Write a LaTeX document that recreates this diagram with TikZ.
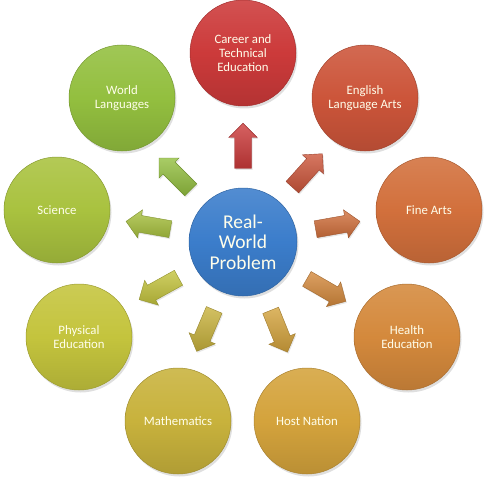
\documentclass[tikz,border=0pt]{standalone}
\usepackage{fontspec}
\setmainfont{Carlito}
\usetikzlibrary{shapes.arrows,shadows,calc}
\definecolor{cBlue}{HTML}{3B7DCB}
\definecolor{cCareer}{HTML}{CC3A3A}
\definecolor{cEnglish}{HTML}{CC553A}
\definecolor{cFine}{HTML}{D2703C}
\definecolor{cHealth}{HTML}{D4893C}
\definecolor{cHost}{HTML}{D4A33C}
\definecolor{cMath}{HTML}{C8B23C}
\definecolor{cPhys}{HTML}{C4C43D}
\definecolor{cSci}{HTML}{A9C23F}
\definecolor{cWorld}{HTML}{93BF3F}
\tikzset{
  ball/.style={circle, minimum size=106pt, inner sep=0pt, align=center,
    text=white!92!yellow, font=\fontsize{12.8}{13.8}\selectfont,
    draw=#1!80!black, line width=0.5pt,
    top color=#1!88!white, bottom color=#1!88!black, middle color=#1,
    drop shadow={opacity=0.25, shadow xshift=1.5pt, shadow yshift=-2.5pt}},
  blockarrow/.style={single arrow, minimum height=45pt, inner sep=0pt,
    inner ysep=8.3pt, single arrow head extend=5.7pt,
    draw=#1!75!black, line width=0.4pt,
    top color=#1!80!white, bottom color=#1!85!black,
    drop shadow={opacity=0.2, shadow xshift=1pt, shadow yshift=-1.5pt}}
}
\begin{document}
\begin{tikzpicture}[x=1pt,y=1pt]
\useasboundingbox (0,0) rectangle (486,480);
\node[ball=cBlue, minimum size=108pt, font=\fontsize{19.5}{20.7}\selectfont] (c) at (243,238) {Real-\\World\\Problem};
\node[ball=cCareer] (career) at (243,427) {Career and\\Technical\\Education};
\node[ball=cEnglish] (english) at (365,382) {English\\Language Arts};
\node[ball=cFine] (fine) at (429,270) {Fine Arts};
\node[ball=cHealth] (health) at (407,143) {Health\\Education};
\node[ball=cHost] (host) at (307,59) {Host Nation};
\node[ball=cMath] (math) at (178,59) {Mathematics};
\node[ball=cPhys] (phys) at (79,143) {Physical\\Education};
\node[ball=cSci] (sci) at (57,270) {Science};
\node[ball=cWorld] (world) at (122,382) {World\\Languages};
\node[blockarrow=cCareer, rotate=90] (a1) at ($(c)+(90:92)$) {};
\node[blockarrow=cEnglish, rotate=48] (a2) at ($(c)+(48:92)$) {};
\node[blockarrow=cFine, rotate=10] (a3) at ($(c)+(10:92)$) {};
\node[blockarrow=cHealth, rotate=-30] (a4) at ($(c)+(-30:92)$) {};
\node[blockarrow=cHost, rotate=-68] (a5) at ($(c)+(-68:92)$) {};
\node[blockarrow=cMath, rotate=-113] (a6) at ($(c)+(-113:92)$) {};
\node[blockarrow=cPhys, rotate=-151] (a7) at ($(c)+(-151:92)$) {};
\node[blockarrow=cSci, rotate=170] (a8) at ($(c)+(170:92)$) {};
\node[blockarrow=cWorld, rotate=135] (a9) at ($(c)+(135:92)$) {};
\end{tikzpicture}
\end{document}
